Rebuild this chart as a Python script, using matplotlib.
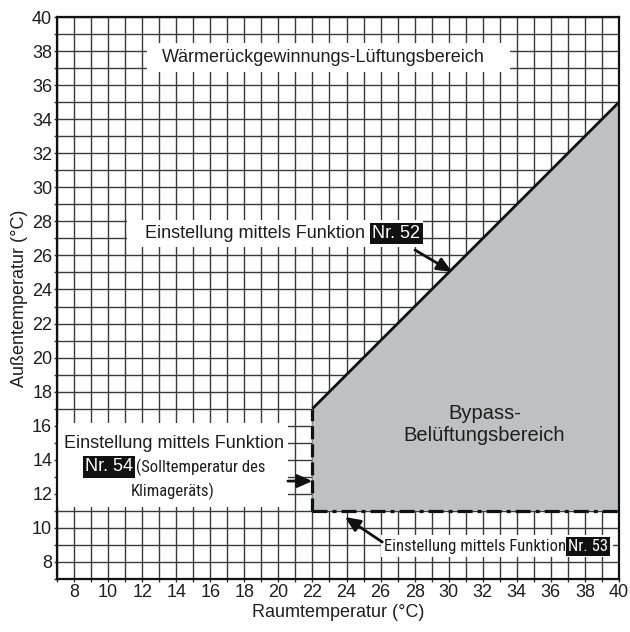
import matplotlib
matplotlib.use("Agg")
import matplotlib.pyplot as plt
from matplotlib.patches import Rectangle, Polygon
from matplotlib import font_manager as fm

plt.rcParams['font.family'] = ['Liberation Sans', 'DejaVu Sans']
plt.rcParams['lines.scale_dashes'] = False

# ---------------- data ----------------
x_ticks = [8, 10, 12, 14, 16, 18, 20, 22, 24, 26, 28, 30, 32, 34, 36, 38, 40]
y_ticks = [8, 10, 12, 14, 16, 18, 20, 22, 24, 26, 28, 30, 32, 34, 36, 38, 40]
x_range = [7, 40]
y_range = [7, 40]
# bypass region boundary (room temperature, outdoor temperature)
bypass_room = [22, 22, 40, 40]
bypass_out = [11, 17, 35, 11]
# setting lines
nr52_room = [22, 40]      # diagonal upper limit
nr52_out = [17, 35]
nr54_room = [22, 22]      # room set temperature
nr54_out = [11, 17]
nr53_room = [22, 40]      # lower outdoor limit
nr53_out = [11, 11]

xlabel = "Raumtemperatur (°C)"
ylabel = "Außentemperatur (°C)"
title_region = "Wärmerückgewinnungs-Lüftungsbereich"
bypass_label = "Bypass-\nBelüftungsbereich"
setting_text = "Einstellung mittels Funktion"

MAIN = ['Liberation Sans', 'DejaVu Sans']
# condensed font if available
narrow = MAIN
nsize = 11.0
for cand in ['Liberation Sans Narrow', 'Arial Narrow', 'Roboto Condensed']:
    try:
        fm.findfont(fm.FontProperties(family=cand), fallback_to_default=False)
        narrow = [cand, 'DejaVu Sans']
        nsize = 12.0
        break
    except Exception:
        pass

TXT = '#1e1e1e'

fig = plt.figure(figsize=(6.3, 6.32), dpi=100)
ax = fig.add_axes([57 / 630, 1 - 579 / 632, 562 / 630, 562 / 632])
ax.set_xlim(*x_range)
ax.set_ylim(*y_range)

ax.set_xticks(x_ticks)
ax.set_yticks(y_ticks)
ax.set_xticks(range(x_range[0], x_range[1] + 1), minor=True)
ax.set_yticks(range(y_range[0], y_range[1] + 1), minor=True)
ax.tick_params(which='both', direction='out', length=2, width=1, color='#333333',
               labelsize=13, labelcolor=TXT, pad=1.5)
for lab in ax.get_xticklabels() + ax.get_yticklabels():
    lab.set_family(MAIN)
ax.set_axisbelow(True)
ax.grid(which='both', color='#3a3a3a', lw=1.0)
for s in ax.spines.values():
    s.set_linewidth(1.6)
    s.set_color('#111111')

ax.set_xlabel(xlabel, fontsize=13, color=TXT, labelpad=2, family=MAIN)
ax.set_ylabel(ylabel, fontsize=13, color=TXT, labelpad=3, family=MAIN)

# bypass region
ax.add_patch(Polygon(list(zip(bypass_room, bypass_out)), closed=True,
                     fc='#bfc0c3', ec='none', zorder=1))
ax.plot(nr52_room, nr52_out, color='#111111', lw=2.0, zorder=3, solid_capstyle='butt')
ax.plot(nr54_room, nr54_out, color='#111111', lw=2.3, zorder=3,
        linestyle=(0, (9.4, 3.6)))
ax.plot(nr53_room, nr53_out, color='#111111', lw=2.3, zorder=3,
        linestyle=(0, (10.8, 3.6, 2.9, 3.6)))

# white label backgrounds
def white_box(x0, x1, y0, y1):
    ax.add_patch(Rectangle((x0, y0), x1 - x0, y1 - y0, fc='white', ec='none', zorder=2))

white_box(12.28, 33.6, 36.77, 38.47)
white_box(11.11, 28.49, 26.5, 28.1)
white_box(7.0, 20.56, 11.23, 16.16)
white_box(26.0, 39.65, 8.29, 9.58)

ax.text(22.62, 37.62, title_region, fontsize=13, color=TXT, ha='center', va='center',
        zorder=5, family=MAIN)
ax.text(32.1, 16.05, bypass_label, fontsize=14.5, color=TXT, ha='center', va='center',
        linespacing=1.2, zorder=5, family=MAIN)

black = dict(boxstyle='square,pad=0.12', fc='#111111', ec='none')

# Nr. 52
ax.text(25.1, 27.3, setting_text, fontsize=13, color=TXT, ha='right', va='center',
        zorder=5, family=MAIN)
ax.text(25.52, 27.3, "Nr. 52", fontsize=13, color='white', ha='left', va='center',
        bbox=black, zorder=5, family=MAIN)
# Nr. 54
ax.text(13.87, 14.98, setting_text, fontsize=13, color=TXT, ha='center', va='center',
        zorder=5, family=MAIN)
ax.text(8.64, 13.58, "Nr. 54", fontsize=13, color='white', ha='left', va='center',
        bbox=black, zorder=5, family=MAIN)
ax.text(11.64, 13.58, "(Solltemperatur des", fontsize=nsize, family=narrow, color=TXT,
        ha='left', va='center', zorder=5)
ax.text(13.81, 12.17, "Klimageräts)", fontsize=nsize, family=narrow, color=TXT,
        ha='center', va='center', zorder=5)
# Nr. 53
ax.text(36.92, 8.9, setting_text, fontsize=nsize, family=narrow, color=TXT,
        ha='right', va='center', zorder=5)
ax.text(39.36, 8.9, "Nr. 53", fontsize=nsize, family=narrow, color='white',
        ha='right', va='center', bbox=black, zorder=5)

arrow = dict(arrowstyle='-|>,head_length=0.5,head_width=0.22', lw=2, color='#111111',
             shrinkA=0, shrinkB=0, mutation_scale=18)
ax.annotate('', xy=(30.2, 25.03), xytext=(28.02, 26.32), arrowprops=arrow, zorder=6)
ax.annotate('', xy=(22.0, 12.75), xytext=(20.56, 12.75), arrowprops=arrow, zorder=6)
ax.annotate('', xy=(23.91, 10.64), xytext=(26.1, 9.17), arrowprops=arrow, zorder=6)

fig.savefig('out.png', dpi=100, facecolor='white')
